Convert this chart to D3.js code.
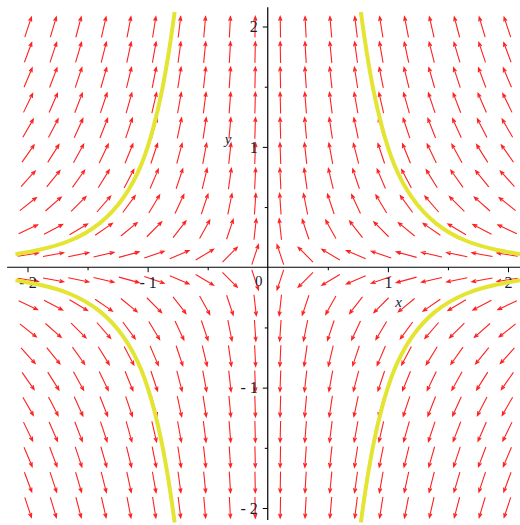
<!DOCTYPE html>
<html>
<head>
<meta charset="utf-8">
<script src="https://cdn.jsdelivr.net/npm/d3@7"></script>
<style>
  body { margin: 0; background: #fff; }
  svg { display: block; }
</style>
</head>
<body>
<script>
// arrow grid (20 x 20 points) of the direction field
let gridX = [-1.995, -1.785, -1.575, -1.365, -1.155, -0.945, -0.735, -0.525, -0.315, -0.105,
              0.105,  0.315,  0.525,  0.735,  0.945,  1.155,  1.365,  1.575,  1.785,  1.995];
let gridY = gridX.slice();

// system: x' = -x, y' = 3y
let field = (x, y) => [-x, 3 * y];

// solution curves
let curveTR = [[0.775, 2.12], [0.82, 1.81], [0.88, 1.47], [0.95, 1.17], [1.05, 0.86], [1.2, 0.58], [1.4, 0.365], [1.65, 0.22], [1.9, 0.146], [2.1, 0.108]];
let curveTL = curveTR.map(p => [-p[0], p[1]]);
let curveBR = curveTR.map(p => [p[0], -p[1]]);
let curveBL = curveTR.map(p => [-p[0], -p[1]]);
let curves = [curveTR, curveTL, curveBR, curveBL];

let majorTicks = [-2, -1, 1, 2];
let minorTicks = [-1.5, -0.5, 0.5, 1.5];

let width = 520, height = 525;

let svg = d3.select('body')
            .append('svg')
            .attr('width', width)
            .attr('height', height)
            .style('font-family', '"Liberation Serif", "Times New Roman", serif');

let xscale = d3.scaleLinear()
              .domain([-2, 2])
              .range([27.5, 508]);

let yscale = d3.scaleLinear()
              .domain([-2, 2])
              .range([508, 26.5]);

// arrows
let arrowLen = 21, headLen = 4.5, headAng = 0.38;
let arrows = [];
gridX.forEach(x => gridY.forEach(y => arrows.push({ x: x, y: y })));

let arrowPath = d => {
  let v = field(d.x, d.y);
  let a = Math.atan2(-v[1], v[0]);   // screen angle
  let cx = xscale(d.x), cy = yscale(d.y);
  let dx = Math.cos(a) * arrowLen / 2, dy = Math.sin(a) * arrowLen / 2;
  let x0 = cx - dx, y0 = cy - dy, x1 = cx + dx, y1 = cy + dy;
  let h1 = [x1 - headLen * Math.cos(a - headAng), y1 - headLen * Math.sin(a - headAng)];
  let h2 = [x1 - headLen * Math.cos(a + headAng), y1 - headLen * Math.sin(a + headAng)];
  return `M${x0},${y0}L${x1},${y1}M${h1[0]},${h1[1]}L${x1},${y1}L${h2[0]},${h2[1]}`;
};

svg.append('g')
  .selectAll('path')
  .data(arrows)
  .join('path')
  .attr('d', arrowPath)
  .attr('fill', 'none')
  .attr('stroke', '#ff2020')
  .attr('stroke-width', 1.1);

// axes
svg.append('line')
  .attr('x1', xscale(-2.17)).attr('x2', xscale(2.1))
  .attr('y1', yscale(0)).attr('y2', yscale(0))
  .attr('stroke', '#000').attr('stroke-width', 1.2);

svg.append('line')
  .attr('x1', xscale(0)).attr('x2', xscale(0))
  .attr('y1', yscale(2.16)).attr('y2', yscale(-2.1))
  .attr('stroke', '#000').attr('stroke-width', 1.2);

let xaxis = svg.append('g')
  .attr('transform', `translate(0,${yscale(0)})`)
  .call(d3.axisBottom(xscale).tickValues(majorTicks).tickSize(5).tickPadding(4)
        .tickFormat(d => d < 0 ? '- ' + Math.abs(d) : d));
xaxis.select('.domain').remove();

let xminor = svg.append('g')
  .attr('transform', `translate(0,${yscale(0)})`)
  .call(d3.axisBottom(xscale).tickValues(minorTicks).tickSize(3).tickFormat(''));
xminor.select('.domain').remove();

let yaxis = svg.append('g')
  .attr('transform', `translate(${xscale(0)},0)`)
  .call(d3.axisLeft(yscale).tickValues(majorTicks).tickSize(5).tickPadding(5)
        .tickFormat(d => d < 0 ? '- ' + Math.abs(d) : d));
yaxis.select('.domain').remove();

let yminor = svg.append('g')
  .attr('transform', `translate(${xscale(0)},0)`)
  .call(d3.axisLeft(yscale).tickValues(minorTicks).tickSize(3).tickFormat(''));
yminor.select('.domain').remove();

svg.selectAll('.tick line').attr('stroke', '#000');
svg.selectAll('.tick text')
  .attr('fill', '#1a1a2e')
  .style('font-family', '"Liberation Serif", serif')
  .style('font-size', '16px');

// origin label
svg.append('text')
  .text('0')
  .attr('x', xscale(0) - 9)
  .attr('y', yscale(0) + 19)
  .attr('text-anchor', 'middle')
  .style('font-size', '15px')
  .attr('fill', '#1a1a2e');

// axis names
svg.append('text')
  .text('x')
  .attr('x', xscale(1.09))
  .attr('y', yscale(-0.33))
  .attr('text-anchor', 'middle')
  .style('font-size', '15px')
  .style('font-style', 'italic')
  .attr('fill', '#1a1a2e');

svg.append('text')
  .text('y')
  .attr('x', xscale(-0.33))
  .attr('y', yscale(1.02))
  .attr('text-anchor', 'middle')
  .style('font-size', '15px')
  .style('font-style', 'italic')
  .attr('fill', '#1a1a2e');

// solution curves
let line = d3.line()
            .x(d => xscale(d[0]))
            .y(d => yscale(d[1]))
            .curve(d3.curveNatural);

svg.append('g')
  .selectAll('path')
  .data(curves)
  .join('path')
  .attr('d', line)
  .attr('fill', 'none')
  .attr('stroke', '#e4e432')
  .attr('stroke-width', 4);
</script>
</body>
</html>
